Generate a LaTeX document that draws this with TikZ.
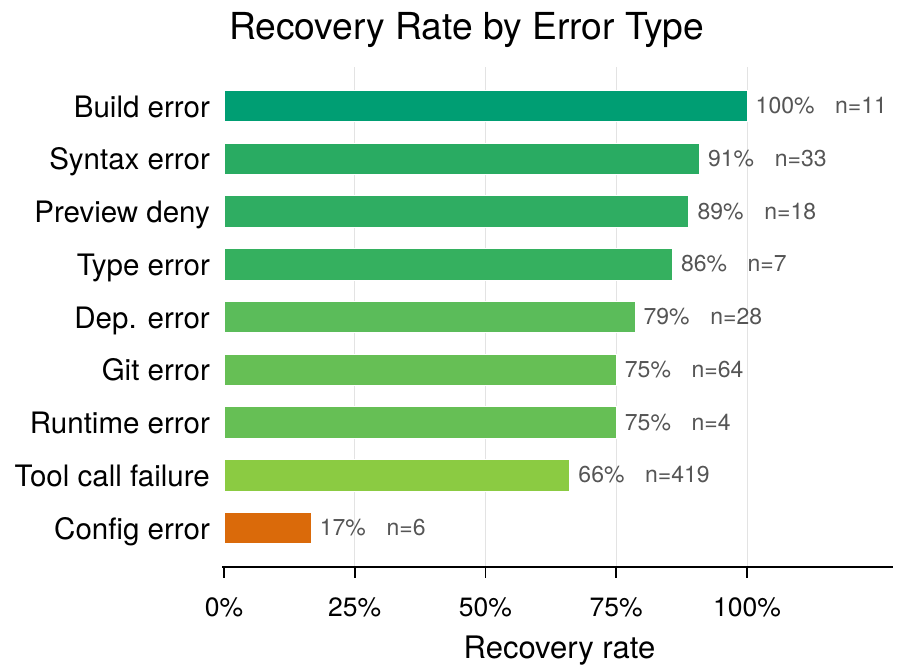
\documentclass[tikz,border=0pt]{standalone}
\usepackage{fontspec}
\setmainfont{TeX Gyre Heros}
\definecolor{cBuild}{HTML}{009E73}
\definecolor{cSyntax}{HTML}{29AB62}
\definecolor{cPreview}{HTML}{2FAD62}
\definecolor{cType}{HTML}{35B05F}
\definecolor{cDep}{HTML}{5BBC5A}
\definecolor{cGit}{HTML}{66BF55}
\definecolor{cTool}{HTML}{8BCB42}
\definecolor{cConfig}{HTML}{DA6A0A}
\definecolor{gridc}{HTML}{E3E3E3}
\definecolor{valc}{HTML}{555555}
\tikzset{
  bar/.style={draw=white, line width=0.8pt, inner sep=0pt, outer sep=0pt, minimum height=31.5pt, anchor=west},
  catlabel/.style={anchor=base east, inner sep=0pt, font=\fontsize{29.5}{34}\selectfont},
  vallabel/.style={anchor=base west, inner sep=0pt, text=valc, font=\fontsize{23}{27}\selectfont},
  ticklabel/.style={anchor=base, inner sep=0pt, font=\fontsize{26.5}{30}\selectfont},
  gridline/.style={draw=gridc, line width=1pt},
  axisline/.style={draw=black, line width=1.8pt}
}
\begin{document}
\begin{tikzpicture}[x=1pt,y=-1pt]
\useasboundingbox (0,0) rectangle (901,665);
% grid
\foreach \v in {0.25,0.5,0.75,1} {
  \draw[gridline] ({224+523*\v},67) -- ({224+523*\v},567);
}
% bars
\foreach \i/\name/\val/\pct/\n/\col in {
  0/Build error/1.0/100/11/cBuild,
  1/Syntax error/0.90909/91/33/cSyntax,
  2/Preview deny/0.88889/89/18/cPreview,
  3/Type error/0.85714/86/7/cType,
  4/Dep. error/0.78571/79/28/cDep,
  5/Git error/0.75/75/64/cGit,
  6/Runtime error/0.75/75/4/cGit,
  7/Tool call failure/0.66110/66/419/cTool,
  8/Config error/0.16667/17/6/cConfig} {
  \pgfmathsetmacro{\yy}{106+52.75*\i}
  \pgfmathsetmacro{\ww}{523*\val}
  \node[bar, fill=\col, minimum width=\ww pt] (bar\i) at (224,\yy) {};
  \node[catlabel] (cat\i) at (210,{\yy+11}) {\name};
  \node[vallabel] (val\i) at ([xshift=8.5pt,yshift=-7.5pt]bar\i.east) {\pct\%\hspace{0.9em}n=\n};
}
% axis
\coordinate (axL) at (222,567);
\coordinate (axR) at (893,567);
\draw[axisline] (axL) -- (axR);
\foreach \v/\t in {0/0,0.25/25,0.5/50,0.75/75,1/100} {
  \coordinate (tk\t) at ({224+523*\v},567);
  \draw[axisline] (tk\t) -- ++(0,11);
  \node[ticklabel] (tl\t) at ({224+523*\v},616) {\t\%};
}
\node[anchor=base, inner sep=0pt, font=\fontsize{31}{36}\selectfont] (xlab) at (559.5,658) {Recovery rate};
\node[anchor=base, inner sep=0pt, font=\fontsize{37.2}{42}\selectfont] (title) at (466.7,39) {Recovery Rate by Error Type};
\end{tikzpicture}
\end{document}
